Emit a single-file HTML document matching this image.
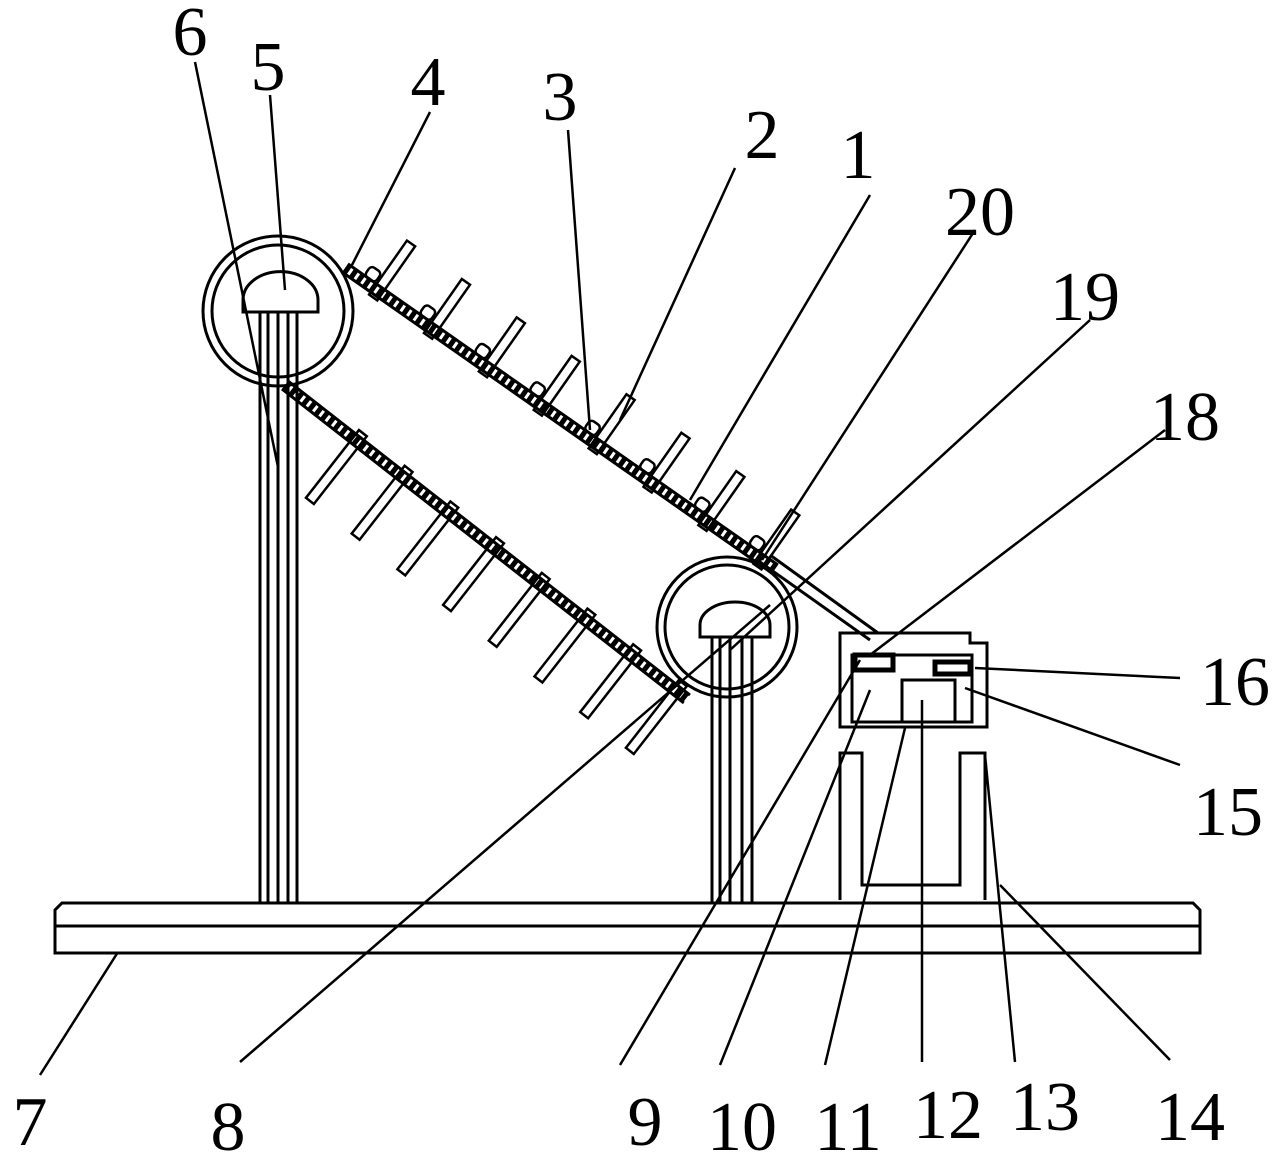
<!DOCTYPE html>
<html><head><style>body{margin:0;background:#fff}svg{display:block}</style></head><body>
<svg width="1288" height="1163" viewBox="0 0 1288 1163" xmlns="http://www.w3.org/2000/svg">
<g fill="none" stroke="#000" stroke-width="3">
<!-- base -->
<path d="M55,953 L55,910 L62,903 L1193,903 L1200,910 L1200,953 Z"/>
<line x1="55" y1="926" x2="1200" y2="926"/>
<!-- left post -->
<line x1="260" y1="312" x2="260" y2="903"/><line x1="268" y1="312" x2="268" y2="903"/>
<line x1="278" y1="312" x2="278" y2="903"/><line x1="288" y1="312" x2="288" y2="903"/>
<line x1="297" y1="312" x2="297" y2="903"/>
<circle cx="278" cy="311" r="75"/><circle cx="278" cy="311" r="66"/>
<path d="M243,312 L243,300 A37,28 0 0 1 318,300 L318,312 Z"/>
<!-- right post -->
<line x1="712" y1="637" x2="712" y2="903"/><line x1="720" y1="637" x2="720" y2="903"/>
<line x1="730" y1="637" x2="730" y2="903"/><line x1="742" y1="637" x2="742" y2="903"/>
<line x1="752" y1="637" x2="752" y2="903"/>
<circle cx="727" cy="627" r="70"/><circle cx="727" cy="627" r="62"/>
<path d="M700,637 L700,625 A35,23 0 0 1 770,625 L770,637 Z"/>
<!-- upper belt -->
<g transform="translate(345,268) rotate(35)">
<line x1="0" y1="0" x2="525" y2="0" stroke-width="9" stroke-dasharray="5 3"/>
<line x1="0" y1="-5" x2="525" y2="-5"/>
<line x1="0" y1="5" x2="525" y2="5"/>
<g stroke-width="2.5">
<rect x="35" y="-58" width="10" height="66"/><rect x="102" y="-58" width="10" height="66"/>
<rect x="169" y="-58" width="10" height="66"/><rect x="236" y="-58" width="10" height="66"/>
<rect x="303" y="-58" width="10" height="66"/><rect x="370" y="-58" width="10" height="66"/>
<rect x="437" y="-58" width="10" height="66"/><rect x="504" y="-58" width="10" height="66"/>
<rect x="20" y="-17" width="13" height="12" rx="4"/><rect x="87" y="-17" width="13" height="12" rx="4"/>
<rect x="154" y="-17" width="13" height="12" rx="4"/><rect x="221" y="-17" width="13" height="12" rx="4"/>
<rect x="288" y="-17" width="13" height="12" rx="4"/><rect x="355" y="-17" width="13" height="12" rx="4"/>
<rect x="422" y="-17" width="13" height="12" rx="4"/><rect x="489" y="-17" width="13" height="12" rx="4"/>
</g>
</g>
<!-- lower belt -->
<g transform="translate(285,385) rotate(38)">
<line x1="0" y1="0" x2="510" y2="0" stroke-width="9" stroke-dasharray="5 3"/>
<line x1="0" y1="-5" x2="510" y2="-5"/>
<line x1="0" y1="5" x2="510" y2="5"/>
<g stroke-width="2.5">
<rect x="86" y="-10" width="10" height="86"/><rect x="144" y="-10" width="10" height="86"/>
<rect x="202" y="-10" width="10" height="86"/><rect x="260" y="-10" width="10" height="86"/>
<rect x="318" y="-10" width="10" height="86"/><rect x="376" y="-10" width="10" height="86"/>
<rect x="434" y="-10" width="10" height="86"/><rect x="492" y="-10" width="10" height="86"/>
</g>
</g>
<!-- belt to box -->
<line x1="760" y1="562" x2="870" y2="640"/>
<line x1="770" y1="555" x2="878" y2="633"/>
<!-- box -->
<path d="M840,633 L970,633 L970,643 L987,643 L987,727 L840,727 Z"/>
<rect x="852" y="655" width="120" height="67"/>
<rect x="855" y="655" width="38" height="15" stroke-width="5"/>
<rect x="935" y="662" width="35" height="12" stroke-width="5"/>
<rect x="902" y="680" width="53" height="42"/>
<!-- supports -->
<path d="M840,900 L840,753 L862,753 L862,885 L960,885 L960,753 L985,753 L985,900"/>
</g>
<!-- leader lines -->
<g stroke="#000" stroke-width="2.5">
<line x1="195" y1="62" x2="278" y2="467"/>
<line x1="270" y1="95" x2="285" y2="290"/>
<line x1="430" y1="112" x2="352" y2="265"/>
<line x1="568" y1="130" x2="590" y2="430"/>
<line x1="735" y1="168" x2="620" y2="420"/>
<line x1="870" y1="195" x2="690" y2="500"/>
<line x1="975" y1="230" x2="762" y2="560"/>
<line x1="1090" y1="320" x2="730" y2="650"/>
<line x1="1165" y1="430" x2="870" y2="655"/>
<line x1="1180" y1="678" x2="975" y2="668"/>
<line x1="1180" y1="765" x2="965" y2="688"/>
<line x1="1170" y1="1060" x2="1000" y2="885"/>
<line x1="1015" y1="1062" x2="985" y2="755"/>
<line x1="922" y1="1062" x2="922" y2="700"/>
<line x1="825" y1="1065" x2="905" y2="728"/>
<line x1="720" y1="1065" x2="870" y2="690"/>
<line x1="620" y1="1065" x2="860" y2="660"/>
<line x1="240" y1="1062" x2="770" y2="605"/>
<line x1="40" y1="1075" x2="118" y2="952"/>
</g>
<g font-family="Liberation Serif, serif" font-size="70" fill="#000" text-anchor="middle">
<text x="190" y="55">6</text><text x="268" y="90">5</text><text x="428" y="105">4</text>
<text x="560" y="120">3</text><text x="762" y="158">2</text><text x="858" y="178">1</text>
<text x="980" y="235">20</text><text x="1085" y="320">19</text><text x="1185" y="440">18</text>
<text x="1235" y="705">16</text><text x="1228" y="835">15</text>
<text x="1190" y="1140">14</text><text x="1045" y="1130">13</text><text x="948" y="1138">12</text>
<text x="848" y="1150">11</text><text x="742" y="1150">10</text><text x="645" y="1145">9</text>
<text x="228" y="1150">8</text><text x="30" y="1145">7</text>
</g>
</svg>
</body></html>
